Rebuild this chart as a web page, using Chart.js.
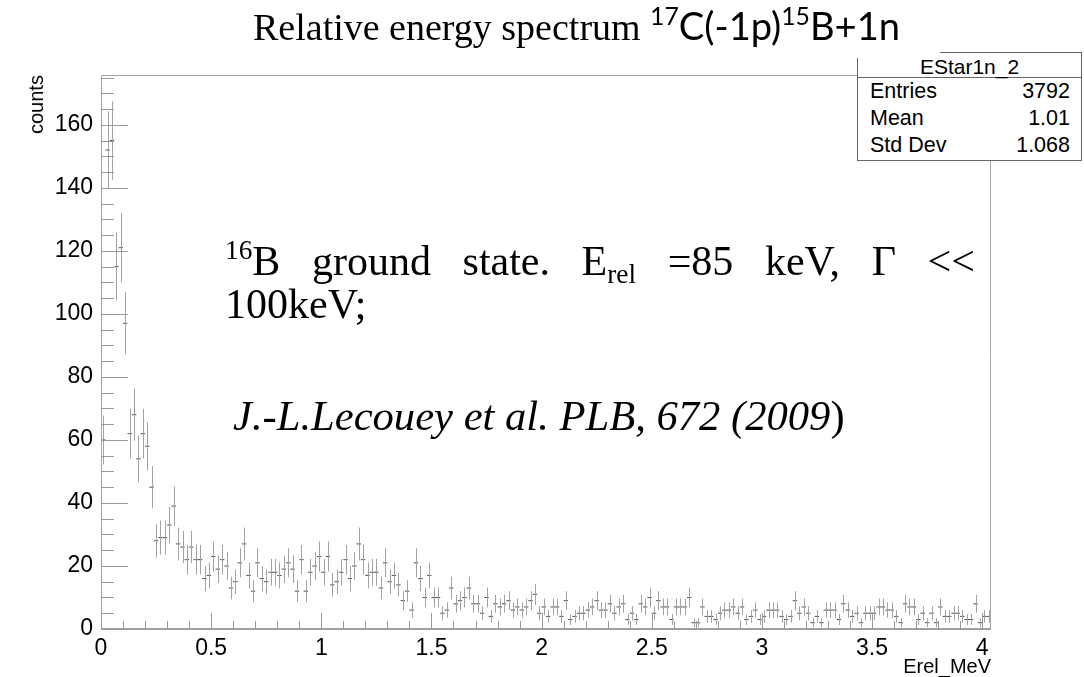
<!DOCTYPE html>
<html><head><meta charset="utf-8">
<script src="https://cdn.jsdelivr.net/npm/chart.js@4.4.0/dist/chart.umd.min.js"></script>
<style>
html,body{margin:0;padding:0;background:#fff;}
#wrap{position:relative;width:1084px;height:677px;overflow:hidden;background:#fff;}
canvas{position:absolute;left:0;top:0;}
.t{position:absolute;white-space:nowrap;line-height:1;color:#000;}
.serif{font-family:"Liberation Serif","Times New Roman",serif;}
.sans{font-family:"Liberation Sans Narrow","Arial Narrow","Liberation Sans",Arial,sans-serif;}
.lato{font-family:Lato,"Open Sans",sans-serif;}
.sup{font-size:0.65em;position:relative;top:-0.6em;}
.sub{font-size:0.65em;position:relative;top:0.3em;}
#line1{display:flex;justify-content:space-between;align-items:baseline;width:750px;}
#stats{position:absolute;left:857px;top:52px;width:223px;height:107px;border:1px solid #666;background:#fff;font-family:"Liberation Sans",Arial,sans-serif;color:#000;}
#stats .hd{height:24px;border-bottom:1px solid #666;text-align:center;font-size:21px;line-height:28px;position:relative;}
#stats .row{height:27px;position:relative;font-size:21.5px;line-height:27px;}
#stats .row span{position:absolute;}
#stats .row .l{left:12px;}
#stats .row .r{right:11px;}
#cover{position:absolute;left:850px;top:40px;width:90px;height:18px;background:#fff;}
</style></head>
<body><div id="wrap">
<canvas id="c" width="1084" height="677"></canvas>

<div id="title" class="t serif" style="left:253px;top:6px;font-size:38px;">Relative energy spectrum <span id="tsans" class="lato" style="font-size:28px;"><span class="sup">17</span>C(-1p)<span class="sup">15</span>B+1n</span></div>

<div id="line1" class="t serif" style="left:225px;top:240px;font-size:42px;">
<span><span class="sup">16</span>B</span><span>ground</span><span>state.</span><span>E<span class="sub">rel</span></span><span>=85</span><span>keV,</span><span>Γ</span><span>&lt;&lt;</span>
</div>
<div class="t serif" style="left:225px;top:283px;font-size:42px;">100keV;</div>
<div class="t serif" style="left:233px;top:395px;font-size:42.6px;"><i>J.-L.Lecouey et al. PLB, 672 (2009</i>)</div>

<div id="stats">
  <div class="hd">EStar1n_2</div>
  <div class="row"><span class="l">Entries</span><span class="r">3792</span></div>
  <div class="row"><span class="l">Mean</span><span class="r">1.01</span></div>
  <div class="row"><span class="l">Std Dev</span><span class="r">1.068</span></div>
</div>
<div id="cover"></div>

<div class="t sans" style="left:26px;top:75px;font-size:20px;writing-mode:vertical-rl;transform:rotate(180deg);">counts</div>
<div class="t sans" style="right:93px;top:654px;font-size:20px;line-height:1.2;">Erel_MeV</div>
</div>

<script>
// ---- data ----
const binWidth = 0.02;     // MeV per bin, histogram from 0 to 4.04
const xMin = 0, xMax = 4.04;
const counts = [
  60,152,155,115,121,97,62,68,54,62,58,45,28,29,29,33,39,27,26,22,26,22,22,
  16,17,23,19,22,20,13,15,21,27,17,12,21,16,15,18,18,17,19,21,19,12,22,12,18,20,23,18,23,14,15,18,22,16,20,27,22,17,18,18,13,21,15,17,14,9,
  12,6,21,16,10,17,10,10,5,6,13,8,9,10,13,8,8,5,10,4,8,7,8,9,6,7,6,7,9,11,5,7,4,7,7,4,9,3,4,5,5,6,7,9,6,
  6,8,5,7,8,3,5,3,8,7,10,5,9,7,7,3,7,7,7,10,2,2,7,4,4,3,5,6,6,7,5,7,3,4,6,3,4,6,6,6,4,3,4,9,
  5,7,5,2,4,2,6,6,6,3,8,6,4,5,2,5,5,5,7,7,6,6,4,2,8,7,7,3,5,2,5,2,7,4,4,5,5,4,3,3,8,2,4,4
];
const xTickValues = [0,0.5,1,1.5,2,2.5,3,3.5,4];
const yTickValues = [0,20,40,60,80,100,120,140,160];
const yMax = 175.8;

const tickFont = '"Liberation Sans Narrow", "Arial Narrow", "Liberation Sans", Arial, sans-serif';

// fit the sans part of the title
(function(){
  const s = document.getElementById('tsans');
  const w = s.getBoundingClientRect().width;
  s.style.fontSize = (28*250/w).toFixed(2)+'px';
})();

const points = counts.map((v,i)=>({x:(i+0.5)*binWidth, y:v}));

const rootFrame = {
  id:'rootFrame',
  afterDatasetsDraw(chart){
    const {ctx, chartArea:a, scales:{x,y}} = chart;
    ctx.save();
    ctx.beginPath();
    ctx.rect(a.left,a.top,a.right-a.left,a.bottom-a.top);
    ctx.clip();
    ctx.strokeStyle='#a2a2a2'; ctx.lineWidth=1;
    ctx.beginPath();
    counts.forEach((v,i)=>{
      const e=Math.sqrt(v);
      const px=Math.round(x.getPixelForValue((i+0.5)*binWidth))+0.5;
      ctx.moveTo(px,y.getPixelForValue(v-e));
      ctx.lineTo(px,y.getPixelForValue(v+e));
    });
    ctx.stroke();
    ctx.restore();
  },
  afterDraw(chart){
    const {ctx, chartArea:a, scales:{x,y}} = chart;
    ctx.save();
    ctx.strokeStyle='#a8a8a8'; ctx.lineWidth=1;
    ctx.beginPath();
    ctx.moveTo(a.left+0.5,a.bottom); ctx.lineTo(a.left+0.5,a.top+0.5);
    ctx.lineTo(a.right-0.5,a.top+0.5); ctx.lineTo(a.right-0.5,a.bottom);
    ctx.stroke();
    ctx.strokeStyle='#a0a0a0'; ctx.lineWidth=2;
    ctx.beginPath();
    ctx.moveTo(a.left,a.bottom); ctx.lineTo(a.right,a.bottom);
    ctx.stroke();
    ctx.lineWidth=1; ctx.strokeStyle='#9a9a9a';
    ctx.beginPath();
    for(let k=0;k*5<=yMax;k++){
      const v=k*5, py=Math.round(y.getPixelForValue(v))+0.5;
      const len = (v%20===0)?27:13;
      ctx.moveTo(a.left,py); ctx.lineTo(a.left+len,py);
    }
    for(let k=0;k*0.1<=xMax+1e-9;k++){
      const px=Math.round(x.getPixelForValue(k*0.1))+0.5;
      const len=(k%5===0)?16:8;
      ctx.moveTo(px,a.bottom); ctx.lineTo(px,a.bottom-len);
    }
    ctx.stroke();
    ctx.restore();
  }
};

new Chart(document.getElementById('c'),{
  type:'scatter',
  data:{datasets:[{
    data:points,
    pointStyle:'line',
    pointRadius:2.2,
    pointHoverRadius:2.2,
    borderColor:'#505050',
    backgroundColor:'#505050',
    borderWidth:1
  }]},
  options:{
    responsive:false, animation:false, devicePixelRatio:1,
    layout:{padding:{left:0,right:93,top:75,bottom:0}},
    plugins:{legend:{display:false},tooltip:{enabled:false},title:{display:false}},
    events:[],
    scales:{
      x:{type:'linear',min:xMin,max:xMax,
        afterBuildTicks:s=>{s.ticks=xTickValues.map(v=>({value:v}));},
        afterFit:s=>{s.height=48;},
        grid:{display:false,drawTicks:false},border:{display:false},
        ticks:{autoSkip:false,maxRotation:0,padding:6,color:'#000',
          font:{family:tickFont,size:23},
          callback:v=>String(v)}},
      y:{type:'linear',min:0,max:yMax,
        afterBuildTicks:s=>{s.ticks=yTickValues.map(v=>({value:v}));},
        afterFit:s=>{s.width=101;},
        grid:{display:false,drawTicks:false},border:{display:false},
        ticks:{autoSkip:false,padding:8,color:'#000',
          font:{family:tickFont,size:23},
          callback:v=>String(v)}}
    }
  },
  plugins:[rootFrame]
});
</script>
</body></html>
